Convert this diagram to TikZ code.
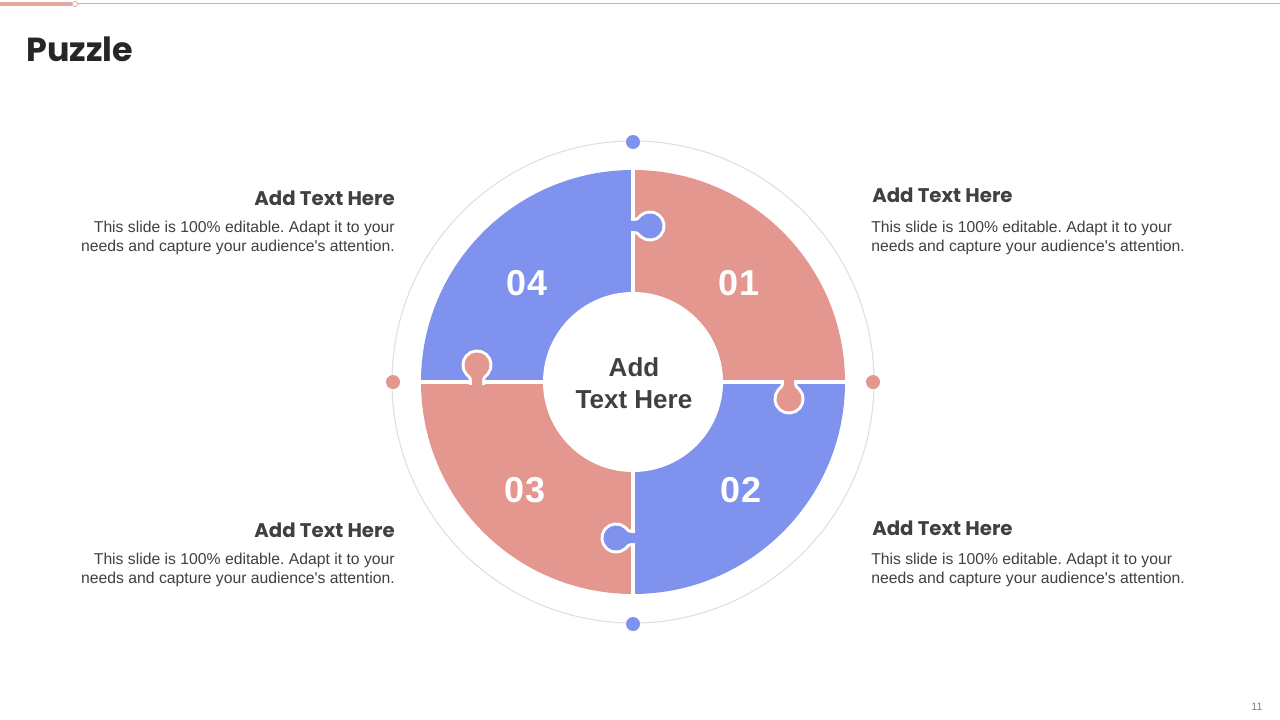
\documentclass[tikz,border=0pt]{standalone}
\usepackage{fontspec}
\setmainfont{Liberation Sans}
\newfontfamily\headfont{Poppins}
\usetikzlibrary{calc}
\definecolor{cred}{HTML}{E3978F}
\definecolor{cblue}{HTML}{7F92EE}
\definecolor{ctext}{HTML}{404040}
\definecolor{ctitle}{HTML}{262626}
\definecolor{cring}{HTML}{DEDEDE}
\definecolor{cline}{HTML}{E2A9A1}
\frenchspacing
\newcommand{\bodytext}{This slide is 100\% editable. Adapt it to your\\needs and capture your audience\textquotesingle s attention.}
\newcommand{\tabpath}{(-4,-5) -- (1,-5) .. controls (5,-5) and (7,-7) .. (8.97,-9.58) arc[start angle=230, end angle=490, radius=12.5] .. controls (7,7) and (5,5) .. (1,5) -- (-4,5) -- cycle}
\begin{document}
\begin{tikzpicture}[x=0.75pt,y=0.75pt,
  heading/.style={font=\headfont\bfseries\fontsize{14.8}{17}\selectfont, text=ctext, inner sep=0pt},
  body/.style={font=\fontsize{11.8}{14.25}\selectfont, text=ctext, inner sep=0pt},
  num/.style={font=\bfseries\fontsize{27}{30}\selectfont, text=white, inner sep=0pt},
  dotb/.style={fill=cblue},
  dotr/.style={fill=cred}]
\useasboundingbox (0,0) rectangle (1280,-720);
\fill[white] (0,0) rectangle (1280,-720);
% top line
\draw[cline, line width=2.4pt] (0,-4) -- (72,-4);
\draw[cline, line width=0.75pt] (78,-4) -- (1280,-4);
\draw[cline, line width=0.6pt, fill=white] (75,-4) circle (2.6);
% title
\node[font=\headfont\bfseries\fontsize{25}{28}\selectfont, text=ctitle, anchor=west, inner sep=0pt] (title) at (26,-49) {Puzzle};
% ring and dots
\coordinate (c) at (633,-382);
\draw[cring, line width=0.75pt] (c) circle (241);
\fill[dotb] (633,-142) circle (7);
\fill[dotb] (633,-624) circle (7);
\fill[dotr] (393,-382) circle (7);
\fill[dotr] (873,-382) circle (7);
% sectors
\fill[cred]  (c) -- ++(0:212) arc[start angle=0, end angle=90, radius=212] -- cycle;
\fill[cblue] (c) -- ++(90:212) arc[start angle=90, end angle=180, radius=212] -- cycle;
\fill[cred]  (c) -- ++(180:212) arc[start angle=180, end angle=270, radius=212] -- cycle;
\fill[cblue] (c) -- ++(270:212) arc[start angle=270, end angle=360, radius=212] -- cycle;
\fill[white] (c) circle (90);
\fill[white] (631,-166) rectangle (635,-598);
\fill[white] (417,-380) rectangle (850,-384);
% tabs
\foreach \px/\py/\rot/\col in {633/-226/0/cblue, 789/-382/-90/cred, 633/-538/180/cblue, 477/-382/90/cred}{
  \begin{scope}[shift={(\px,\py)}, rotate=\rot]
    \begin{scope}
      \clip (-2,-40) rectangle (40,40);
      \draw[white, line width=4.5pt, line join=round] \tabpath;
    \end{scope}
    \fill[\col] \tabpath;
  \end{scope}
}
% numbers
\node[num] (n01) at (739,-283) {01};
\node[num] (n02) at (741,-490) {02};
\node[num] (n03) at (525,-490) {03};
\node[num] (n04) at (527,-283) {04};
% center text
\node[font=\bfseries\fontsize{19.5}{24}\selectfont, text=ctext, align=center, inner sep=0pt] (ctr) at (634,-383) {Add\\Text Here};
% text blocks
\node[heading, anchor=east] (h4) at (395,-198) {Add Text Here};
\node[body, anchor=east, align=right] (b4) at (395,-238) {\bodytext};
\node[heading, anchor=west] (h1) at (872,-195) {Add Text Here};
\node[body, anchor=west, align=left] (b1) at (871,-238) {\bodytext};
\node[heading, anchor=east] (h3) at (395,-530) {Add Text Here};
\node[body, anchor=east, align=right] (b3) at (395,-570) {\bodytext};
\node[heading, anchor=west] (h2) at (872,-528) {Add Text Here};
\node[body, anchor=west, align=left] (b2) at (871,-570) {\bodytext};
% page number
\node[font=\fontsize{8}{9}\selectfont, text=gray, inner sep=0pt] (pg) at (1257,-707) {11};
\end{tikzpicture}
\end{document}
